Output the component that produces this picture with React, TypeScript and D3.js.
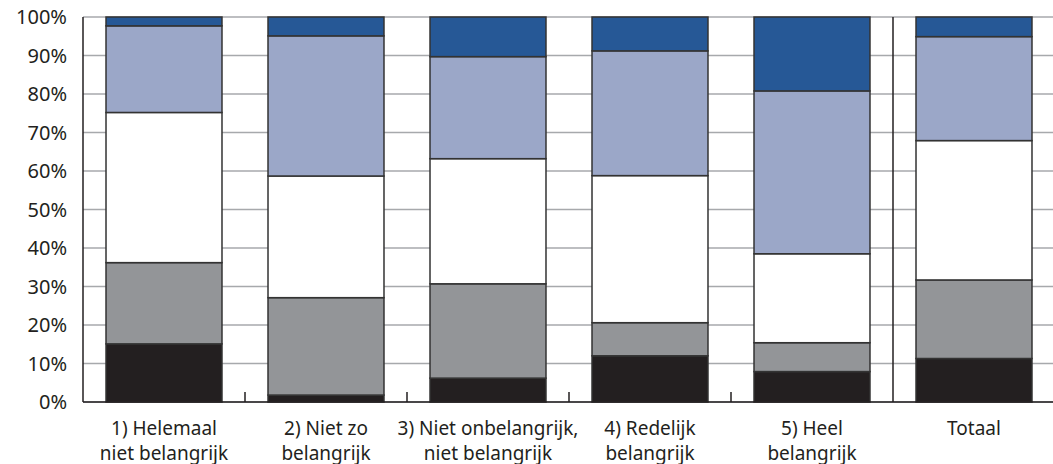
import React from "react";
import * as d3 from "d3";

const categories = [
  "1) Helemaal\nniet belangrijk",
  "2) Niet zo\nbelangrijk",
  "3) Niet onbelangrijk,\nniet belangrijk",
  "4) Redelijk\nbelangrijk",
  "5) Heel\nbelangrijk",
  "Totaal",
];
const series1 = [15.1, 1.8, 6.2, 12.0, 7.9, 11.3];
const series2 = [21.1, 25.3, 24.5, 8.6, 7.5, 20.4];
const series3 = [39.0, 31.6, 32.5, 38.2, 23.1, 36.2];
const series4 = [22.5, 36.4, 26.5, 32.4, 42.3, 27.0];
const series5 = [2.3, 4.9, 10.3, 8.8, 19.2, 5.1];
const seriesKeys = ["s1", "s2", "s3", "s4", "s5"];
const seriesColors = ["#231f20", "#939598", "#ffffff", "#9ba7c8", "#265896"];
const yTicks = [0, 10, 20, 30, 40, 50, 60, 70, 80, 90, 100];

const W = 1053;
const H = 464;
const left = 83;
const right = 1055;
const top = 17;
const bottom = 402;

export default function App() {
  const rows = categories.map((c, i) => ({
    cat: c,
    s1: series1[i],
    s2: series2[i],
    s3: series3[i],
    s4: series4[i],
    s5: series5[i],
  }));
  const stack = d3.stack<any>().keys(seriesKeys)(rows);
  const x = d3
    .scaleBand<string>()
    .domain(categories)
    .range([left, right])
    .paddingInner(0.284)
    .paddingOuter(0.142);
  const y = d3.scaleLinear().domain([0, 100]).range([bottom, top]);
  const step = x.step();
  const font = "'Noto Sans', Lato, sans-serif";

  return (
    <svg width={W} height={H} style={{ position: "absolute", left: 0, top: 0, background: "#fff" }}>
      {yTicks.map((t) => (
        <line key={"g" + t} x1={left} x2={W} y1={y(t)} y2={y(t)} stroke="#a7a9ac" strokeWidth={1.5} />
      ))}
      {yTicks.map((t) => (
        <text
          key={"t" + t}
          x={67}
          y={y(t)}
          dy="0.36em"
          textAnchor="end"
          fontFamily={font}
          fontSize={20}
          fill="#231f20"
        >
          {t + "%"}
        </text>
      ))}
      {stack.map((layer, li) =>
        layer.map((d, i) => (
          <rect
            key={li + "-" + i}
            x={x(categories[i])!}
            width={x.bandwidth()}
            y={y(d[1])}
            height={y(d[0]) - y(d[1])}
            fill={seriesColors[li]}
            stroke="#333"
            strokeWidth={1.5}
          />
        ))
      )}
      {categories.slice(0, 4).map((c, i) => {
        const bx = left + step * (i + 1);
        return <line key={"k" + i} x1={bx} x2={bx} y1={bottom - 10} y2={bottom} stroke="#231f20" strokeWidth={1.5} />;
      })}
      <line x1={left + step * 5} x2={left + step * 5} y1={top} y2={bottom} stroke="#231f20" strokeWidth={1.5} />
      <line x1={left} x2={left} y1={top} y2={bottom} stroke="#231f20" strokeWidth={1.5} />
      <line x1={left} x2={W} y1={bottom} y2={bottom} stroke="#231f20" strokeWidth={1.5} />
      {categories.map((c, i) => (
        <text
          key={"c" + i}
          x={x(c)! + x.bandwidth() / 2}
          y={435}
          textAnchor="middle"
          fontFamily={font}
          fontSize={19}
          fill="#231f20"
        >
          {c.split("\n").map((line, j) => (
            <tspan key={j} x={x(c)! + x.bandwidth() / 2} dy={j === 0 ? 0 : 25}>
              {line}
            </tspan>
          ))}
        </text>
      ))}
    </svg>
  );
}
